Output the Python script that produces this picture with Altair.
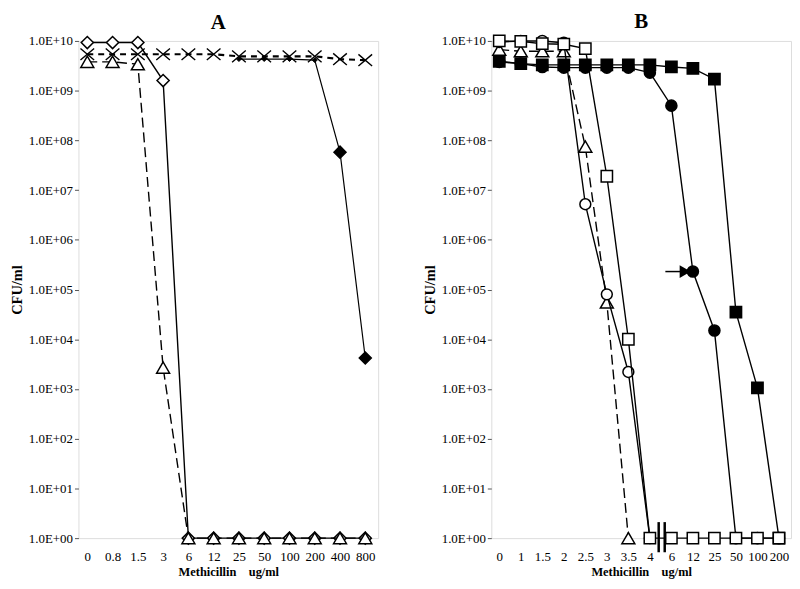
import altair as alt
import pandas as pd

# ---------------- data ----------------
A_TICKS = ["0", "0.8", "1.5", "3", "6", "12", "25", "50", "100", "200", "400", "800"]
A_OPEN_DIAMOND = [9.3e9, 9.3e9, 9.3e9, 1.6e9, 1, 1, 1, 1, 1, 1, 1, 1]
A_TRIANGLE = [3.8e9, 3.8e9, 3.4e9, 2.7e3, 1, 1, 1, 1, 1, 1, 1, 1]
A_CROSS = [5.4e9, 5.4e9, 5.4e9, 5.4e9, 5.4e9, 5.4e9, 4.9e9, 4.9e9, 4.9e9, 4.9e9, 4.3e9, 4.1e9]
A_FILLED_DIAMOND = [None, None, None, None, None, None, 4.3e9, 4.3e9, 4.3e9, 4.1e9, 5.8e7, 4.2e3]

B_TICKS = ["0", "1", "1.5", "2", "2.5", "3", "3.5", "4", "6", "12", "25", "50", "100", "200"]
B_OPEN_SQUARE = [1.0e10, 9.8e9, 8.8e9, 8.6e9, 7.0e9, 1.9e7, 1.0e4, 1, 1, 1, 1, 1, 1, 1]
B_OPEN_CIRCLE = [9.5e9, 1.0e10, 1.0e10, 9.2e9, 5.2e6, 8.0e4, 2.2e3, 1]
B_TRIANGLE = [6.7e9, 6.2e9, 6.2e9, 6.2e9, 7.5e7, 5.5e4, 1]
B_FILLED_CIRCLE = [3.8e9, 3.5e9, 3.0e9, 2.9e9, 2.9e9, 2.9e9, 2.9e9, 2.3e9, 5.0e8, 2.3e5, 1.5e4, 1, 1, 1]
B_FILLED_SQUARE = [3.9e9, 3.5e9, 3.3e9, 3.3e9, 3.3e9, 3.3e9, 3.3e9, 3.3e9, 3.0e9, 2.8e9, 1.7e9, 3.5e4, 1.05e3, 1]

B_ARROW_X = [7.72, 8.45]
B_ARROW_HEAD_X = [8.62]
B_ARROW_Y = [2.3e5]
B_BREAK_X = [7.41, 7.69]
B_BREAK_Y = [0.52, 2.1]

Y_LABELS = ["1.0E+00", "1.0E+01", "1.0E+02", "1.0E+03", "1.0E+04", "1.0E+05",
            "1.0E+06", "1.0E+07", "1.0E+08", "1.0E+09", "1.0E+10"]
Y_VALUES = [1, 10, 1e2, 1e3, 1e4, 1e5, 1e6, 1e7, 1e8, 1e9, 1e10]

FONT = "Liberation Serif"
X_PATH = "M-1,-0.85L1,0.85M-1,0.85L1,-0.85"


def frame(values):
    return pd.DataFrame({"idx": list(range(len(values))), "value": values}).dropna()


def encodings(ticks, domain):
    lab = "[" + ",".join("'%s'" % t for t in ticks) + "]"
    ylab = "[" + ",".join("'%s'" % t for t in Y_LABELS) + "]"
    xs = alt.Scale(domain=domain, nice=False, zero=False)
    ys = alt.Scale(type="log", domain=[1, 1e10], nice=False)
    xenc = alt.X("idx:Q", scale=xs, axis=alt.Axis(
        values=list(range(len(ticks))), labelExpr=lab + "[round(datum.value)]",
        labelOverlap=False, labelBound=False, labelFlush=False,
        title="Methicillin\u00a0\u00a0\u00a0\u00a0ug/ml", ticks=False, domain=False,
        grid=False, labelPadding=13, titlePadding=2, labelFontSize=13,
        labelFont=FONT, titleFont=FONT, titleFontSize=12.5, titleFontWeight="bold",
        labelColor="black", titleColor="black"))
    yenc = alt.Y("value:Q", scale=ys, axis=alt.Axis(
        values=Y_VALUES, labelExpr=ylab + "[round(log(datum.value)/LN10)]",
        labelOverlap=False,
        title="CFU/ml", grid=False, domain=False, tickSize=4, tickColor="#555",
        labelPadding=2, titlePadding=4, labelFontSize=13, labelFont=FONT,
        titleFont=FONT, titleFontSize=14.5, titleFontWeight="bold",
        labelColor="black", titleColor="black"))
    return xenc, yenc


def make_panel(title, xenc, yenc, series, extra=None, title_dx=0):
    layers = []
    for vals, shape, fill, dash, size, lw, small in series:
        df = frame(vals)
        lkw = dict(color="black", strokeWidth=lw)
        if dash:
            lkw["strokeDash"] = dash
        layers.append(alt.Chart(df).mark_line(**lkw).encode(x=xenc, y=yenc))
        if shape == X_PATH:
            pm = alt.Chart(df).mark_point(shape=shape, filled=False, stroke="black",
                                          strokeWidth=1.4, size=size, opacity=1)
            layers.append(pm.encode(x=xenc, y=yenc))
        elif small is not None:
            big = alt.Chart(df).transform_filter(alt.datum.idx > small).mark_point(
                shape=shape, filled=True, fill=fill, stroke="black", strokeWidth=1.4,
                size=size, opacity=1)
            little = alt.Chart(df).transform_filter(alt.datum.idx <= small).mark_point(
                shape=shape, filled=True, fill=fill, stroke="black", strokeWidth=1,
                size=22, opacity=1)
            layers.append(little.encode(x=xenc, y=yenc))
            layers.append(big.encode(x=xenc, y=yenc))
        else:
            pm = alt.Chart(df).mark_point(shape=shape, filled=True, fill=fill,
                                          stroke="black", strokeWidth=1.5,
                                          size=size, opacity=1)
            layers.append(pm.encode(x=xenc, y=yenc))
    if extra:
        layers.extend(extra)
    return alt.layer(*layers).properties(
        width=302, height=501,
        title=alt.TitleParams(title, fontSize=21, fontWeight="bold", font=FONT,
                              color="black", dx=title_dx, offset=0))


a_series = [
    (A_FILLED_DIAMOND, "diamond", "black", None, 150, 1.2, 9),
    (A_OPEN_DIAMOND, "diamond", "white", None, 150, 1.4, None),
    (A_TRIANGLE, "triangle-up", "white", [10, 5], 170, 1.4, None),
    (A_CROSS, X_PATH, "none", [6, 5], 190, 2.2, None),
]
b_series = [
    (B_FILLED_SQUARE, "square", "black", None, 130, 1.4, None),
    (B_FILLED_CIRCLE, "circle", "black", None, 125, 1.4, None),
    (B_TRIANGLE, "triangle-up", "white", [10, 5], 170, 1.4, None),
    (B_OPEN_CIRCLE, "circle", "white", None, 120, 1.4, None),
    (B_OPEN_SQUARE, "square", "white", None, 130, 1.4, None),
]

xa, ya = encodings(A_TICKS, [-0.35, 11.51])
xb, yb = encodings(B_TICKS, [-0.37, 13.56])

arrow_df = pd.DataFrame({"idx": [B_ARROW_X[0]], "idx2": [B_ARROW_X[1]], "value": B_ARROW_Y})
head_df = pd.DataFrame({"idx": B_ARROW_HEAD_X, "value": B_ARROW_Y})
break_df = pd.DataFrame({"idx": B_BREAK_X, "value": [B_BREAK_Y[0]] * 2,
                         "value2": [B_BREAK_Y[1]] * 2})

b_extra = [
    alt.Chart(arrow_df).mark_rule(color="black", strokeWidth=1.5).encode(
        x=xb, x2="idx2:Q", y=yb),
    alt.Chart(head_df).mark_point(shape="triangle-right", filled=True, fill="black",
                                  stroke="black", size=90, opacity=1).encode(
        x=xb, y=yb),
    alt.Chart(break_df).mark_rule(color="black", strokeWidth=2.5, clip=False).encode(
        x=xb, y=yb, y2="value2:Q"),
]

panel_a = make_panel("A", xa, ya, a_series, title_dx=-10)
panel_b = make_panel("B", xb, yb, b_series, extra=b_extra)

chart = alt.hconcat(panel_a, panel_b, spacing=42).properties(
    padding={"left": 0, "top": 0, "right": 0, "bottom": 0}
).configure_view(stroke="#9a9a9a", strokeWidth=1.5).configure(
    background="white")

chart.save("out.html", embed_options={"renderer": "svg", "actions": False})
